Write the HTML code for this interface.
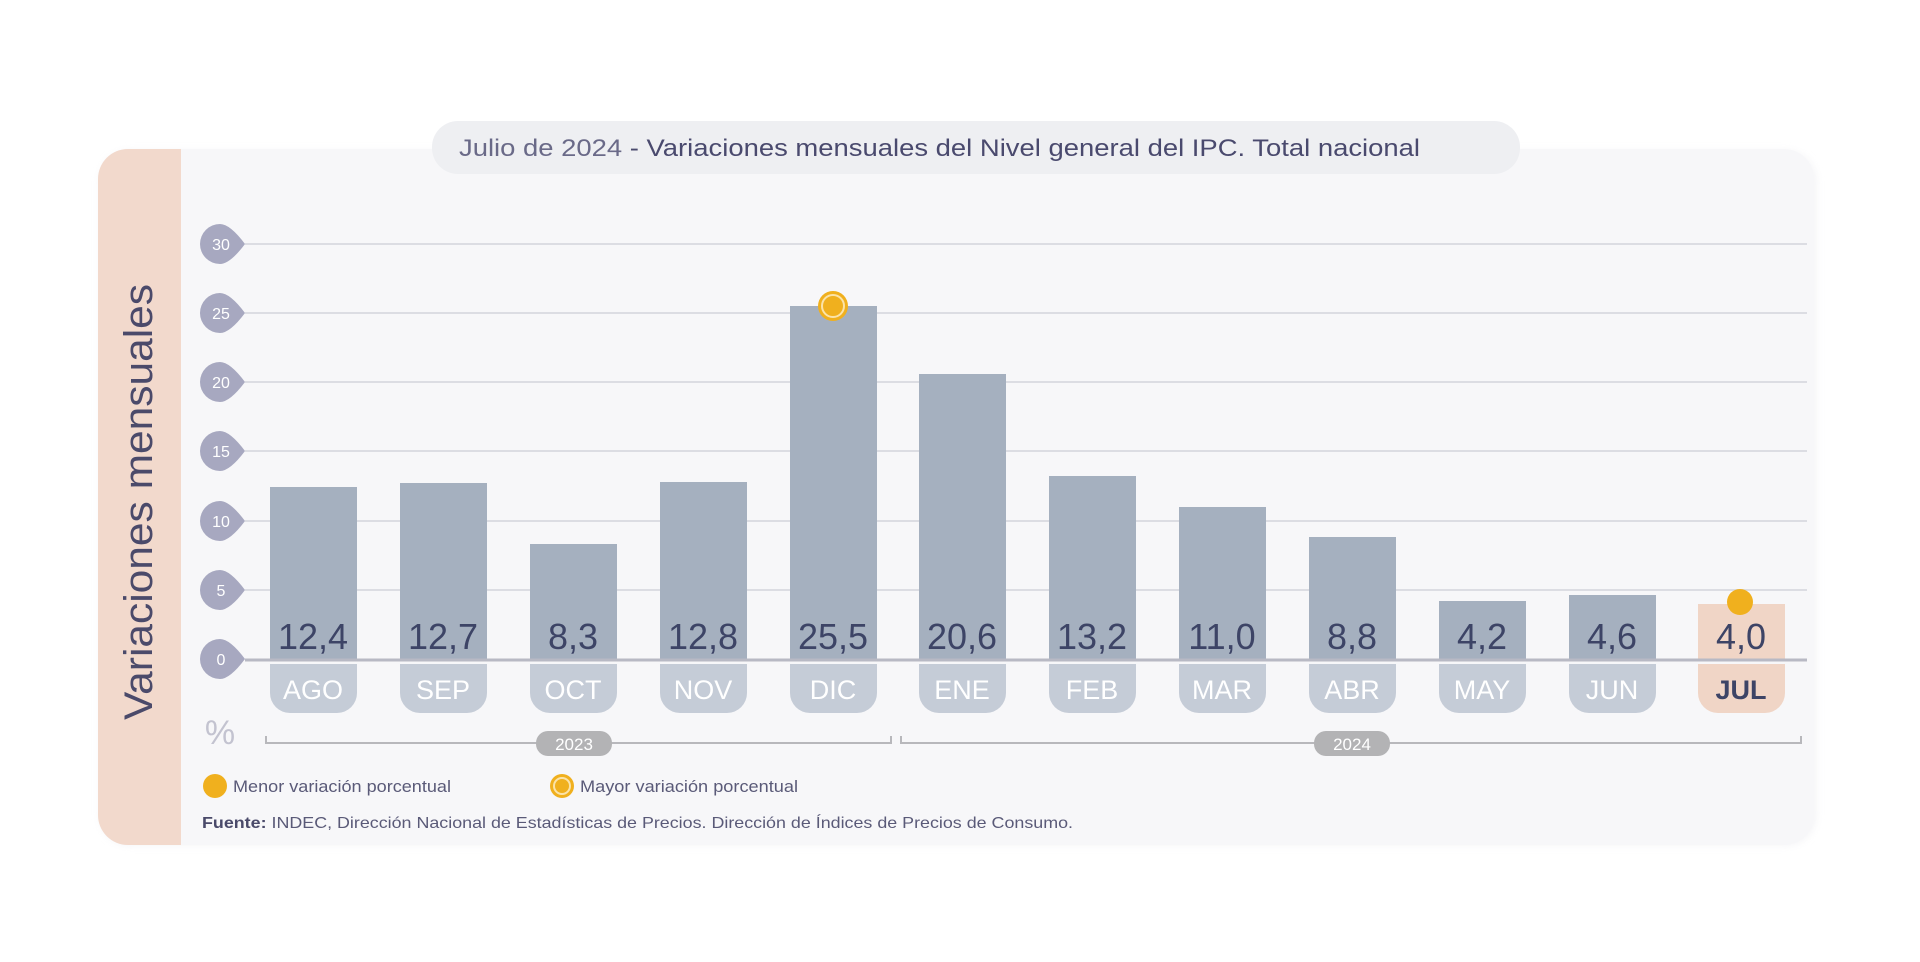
<!DOCTYPE html>
<html><head><meta charset="utf-8"><style>
html,body{margin:0;padding:0;background:#fff;width:1920px;height:962px;overflow:hidden}
svg{display:block;font-family:"Liberation Sans",sans-serif}
</style></head><body>
<svg width="1920" height="962" viewBox="0 0 1920 962" xmlns="http://www.w3.org/2000/svg">
<defs>
<filter id="sh" x="-5%" y="-5%" width="110%" height="110%"><feGaussianBlur stdDeviation="4"/></filter>
</defs>
<!-- card -->
<rect x="100" y="151" width="1716" height="694" rx="30" fill="#ececf0" filter="url(#sh)" opacity="0.6"/>
<rect x="98" y="149" width="1716" height="696" rx="30" fill="#f7f7f9"/>
<path d="M128 149 H181 V845 H128 A30 30 0 0 1 98 815 V179 A30 30 0 0 1 128 149Z" fill="#f2d9cc"/>
<!-- title pill -->
<rect x="432" y="121" width="1088" height="53" rx="26" fill="#eeeff2"/>
<text x="459" y="156" font-size="24" fill="#4a4a6e" textLength="961" lengthAdjust="spacingAndGlyphs"><tspan fill="#6a6a88">Julio de 2024</tspan> - Variaciones mensuales del Nivel general del IPC. Total nacional</text>
<!-- axis title -->
<text transform="translate(152,502) rotate(-90)" text-anchor="middle" font-size="40" fill="#4b4a6a" textLength="436" lengthAdjust="spacingAndGlyphs">Variaciones mensuales</text>
<!-- gridlines -->
<g stroke="#dcdde3" stroke-width="2">
<line x1="245" y1="244" x2="1807" y2="244"/>
<line x1="245" y1="313" x2="1807" y2="313"/>
<line x1="245" y1="382" x2="1807" y2="382"/>
<line x1="245" y1="451" x2="1807" y2="451"/>
<line x1="245" y1="521" x2="1807" y2="521"/>
<line x1="245" y1="590" x2="1807" y2="590"/>
</g>
<!-- y badges -->
<g fill="#a7a8c0">
<path d="M220 224 a20 20 0 1 0 0 40 q10 0 25 -20 q-15 -20 -25 -20z"/>
<path d="M220 293 a20 20 0 1 0 0 40 q10 0 25 -20 q-15 -20 -25 -20z"/>
<path d="M220 362 a20 20 0 1 0 0 40 q10 0 25 -20 q-15 -20 -25 -20z"/>
<path d="M220 431 a20 20 0 1 0 0 40 q10 0 25 -20 q-15 -20 -25 -20z"/>
<path d="M220 501 a20 20 0 1 0 0 40 q10 0 25 -20 q-15 -20 -25 -20z"/>
<path d="M220 570 a20 20 0 1 0 0 40 q10 0 25 -20 q-15 -20 -25 -20z"/>
<path d="M220 639 a20 20 0 1 0 0 40 q10 0 25 -20 q-15 -20 -25 -20z"/>
</g>
<g fill="#fff" font-size="16" text-anchor="middle">
<text x="221" y="250">30</text><text x="221" y="319">25</text><text x="221" y="388">20</text>
<text x="221" y="457">15</text><text x="221" y="527">10</text><text x="221" y="596">5</text><text x="221" y="665">0</text>
</g>
<!-- bars -->
<g fill="#a5b0bf">
<rect x="270" y="487" width="87" height="172"/>
<rect x="400" y="483" width="87" height="176"/>
<rect x="530" y="544" width="87" height="115"/>
<rect x="660" y="482" width="87" height="177"/>
<rect x="790" y="306" width="87" height="353"/>
<rect x="919" y="374" width="87" height="285"/>
<rect x="1049" y="476" width="87" height="183"/>
<rect x="1179" y="507" width="87" height="152"/>
<rect x="1309" y="537" width="87" height="122"/>
<rect x="1439" y="601" width="87" height="58"/>
<rect x="1569" y="595" width="87" height="64"/>
</g>
<rect x="1698" y="604" width="87" height="55" fill="#f0d5c6"/>
<line x1="245" y1="660" x2="1807" y2="660" stroke="#b8b9c4" stroke-width="3"/>
<!-- month pills -->
<g fill="#c5ccd7">
<path d="M270 664 h87 v29 a20 20 0 0 1 -20 20 h-47 a20 20 0 0 1 -20 -20z"/>
<path d="M400 664 h87 v29 a20 20 0 0 1 -20 20 h-47 a20 20 0 0 1 -20 -20z"/>
<path d="M530 664 h87 v29 a20 20 0 0 1 -20 20 h-47 a20 20 0 0 1 -20 -20z"/>
<path d="M660 664 h87 v29 a20 20 0 0 1 -20 20 h-47 a20 20 0 0 1 -20 -20z"/>
<path d="M790 664 h87 v29 a20 20 0 0 1 -20 20 h-47 a20 20 0 0 1 -20 -20z"/>
<path d="M919 664 h87 v29 a20 20 0 0 1 -20 20 h-47 a20 20 0 0 1 -20 -20z"/>
<path d="M1049 664 h87 v29 a20 20 0 0 1 -20 20 h-47 a20 20 0 0 1 -20 -20z"/>
<path d="M1179 664 h87 v29 a20 20 0 0 1 -20 20 h-47 a20 20 0 0 1 -20 -20z"/>
<path d="M1309 664 h87 v29 a20 20 0 0 1 -20 20 h-47 a20 20 0 0 1 -20 -20z"/>
<path d="M1439 664 h87 v29 a20 20 0 0 1 -20 20 h-47 a20 20 0 0 1 -20 -20z"/>
<path d="M1569 664 h87 v29 a20 20 0 0 1 -20 20 h-47 a20 20 0 0 1 -20 -20z"/>
</g>
<path d="M1698 664 h87 v29 a20 20 0 0 1 -20 20 h-47 a20 20 0 0 1 -20 -20z" fill="#f0d5c6"/>
<g fill="#fff" font-size="27" text-anchor="middle">
<text x="313" y="699">AGO</text><text x="443" y="699">SEP</text><text x="573" y="699">OCT</text>
<text x="703" y="699">NOV</text><text x="833" y="699">DIC</text><text x="962" y="699">ENE</text>
<text x="1092" y="699">FEB</text><text x="1222" y="699">MAR</text><text x="1352" y="699">ABR</text>
<text x="1482" y="699">MAY</text><text x="1612" y="699">JUN</text>
</g>
<text x="1741" y="699" font-size="27" font-weight="bold" fill="#3d4466" text-anchor="middle">JUL</text>
<!-- values -->
<g fill="#3d4466" font-size="36" text-anchor="middle">
<text x="313" y="649">12,4</text><text x="443" y="649">12,7</text><text x="573" y="649">8,3</text>
<text x="703" y="649">12,8</text><text x="833" y="649">25,5</text><text x="962" y="649">20,6</text>
<text x="1092" y="649">13,2</text><text x="1222" y="649">11,0</text><text x="1352" y="649">8,8</text>
<text x="1482" y="649">4,2</text><text x="1612" y="649">4,6</text><text x="1741" y="649">4,0</text>
</g>
<!-- markers -->
<circle cx="833" cy="306" r="15" fill="#f0b01e"/>
<circle cx="833" cy="306" r="11" fill="none" stroke="#fbe3a8" stroke-width="2"/>
<circle cx="1740" cy="602" r="13" fill="#f0b01e"/>
<!-- % and year brackets -->
<text x="220" y="744" font-size="34" fill="#c3c3d0" text-anchor="middle">%</text>
<g stroke="#b8b8bc" stroke-width="2" fill="none">
<path d="M266 736 V743 H891 V736"/>
<path d="M901 736 V743 H1801 V736"/>
</g>
<rect x="536" y="731" width="76" height="25" rx="12" fill="#b3b3b5"/>
<rect x="1314" y="731" width="76" height="25" rx="12" fill="#b3b3b5"/>
<text x="574" y="750" font-size="17" fill="#fff" text-anchor="middle">2023</text>
<text x="1352" y="750" font-size="17" fill="#fff" text-anchor="middle">2024</text>
<!-- legend -->
<circle cx="215" cy="786" r="12" fill="#f0b01e"/>
<text x="233" y="792" font-size="17" fill="#5a5a78" textLength="218" lengthAdjust="spacingAndGlyphs">Menor variación porcentual</text>
<circle cx="562" cy="786" r="12" fill="#f0b01e"/>
<circle cx="562" cy="786" r="8" fill="none" stroke="#fbe3a8" stroke-width="2"/>
<text x="580" y="792" font-size="17" fill="#5a5a78" textLength="218" lengthAdjust="spacingAndGlyphs">Mayor variación porcentual</text>
<text x="202" y="828" font-size="16" fill="#5a5a78" textLength="871" lengthAdjust="spacingAndGlyphs"><tspan font-weight="bold" fill="#4a4a6a">Fuente:</tspan> INDEC, Dirección Nacional de Estadísticas de Precios. Dirección de Índices de Precios de Consumo.</text>
</svg>
</body></html>
